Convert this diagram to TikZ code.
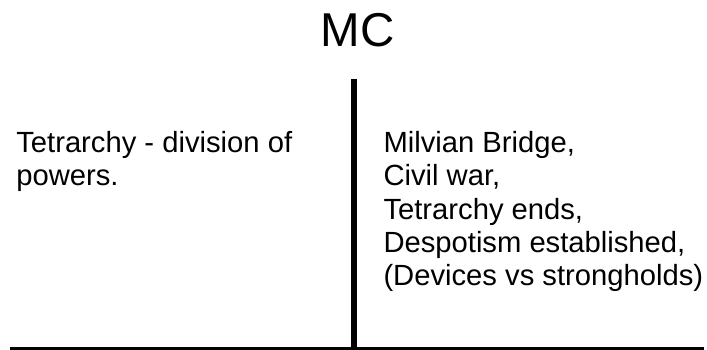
\documentclass[tikz,border=0pt]{standalone}
\usepackage{fontspec}
\setmainfont{Liberation Sans}
\begin{document}
\begin{tikzpicture}[x=1pt,y=1pt,
  bodytext/.style={inner sep=0pt,outer sep=0pt,align=left,anchor=base west,
    font=\fontsize{29.2}{33.3}\selectfont},
  titletext/.style={inner sep=0pt,outer sep=0pt,anchor=base,
    font=\fontsize{47.5}{50}\selectfont},
  rule/.style={draw=black,line cap=butt}]
\useasboundingbox (0,0) rectangle (707,350);
\node[titletext] (title) at (357.5,303) {MC};
\coordinate (vtop) at (354,271);
\coordinate (vbot) at (354,1.5);
\coordinate (hl) at (10,1.5);
\coordinate (hr) at (704,1.5);
\draw[rule,line width=3pt] (hl) -- (hr);
\draw[rule,line width=5.4pt] (vtop) -- (vbot);
% base anchor = baseline of the last line
\node[bodytext] (left) at (16.3,164.2) {Tetrarchy - division of\\powers.};
\node[bodytext] (right) at (383.5,64.3) {Milvian Bridge,\\Civil war,\\Tetrarchy ends,\\Despotism established,\\(Devices vs strongholds)};
\end{tikzpicture}
\end{document}
